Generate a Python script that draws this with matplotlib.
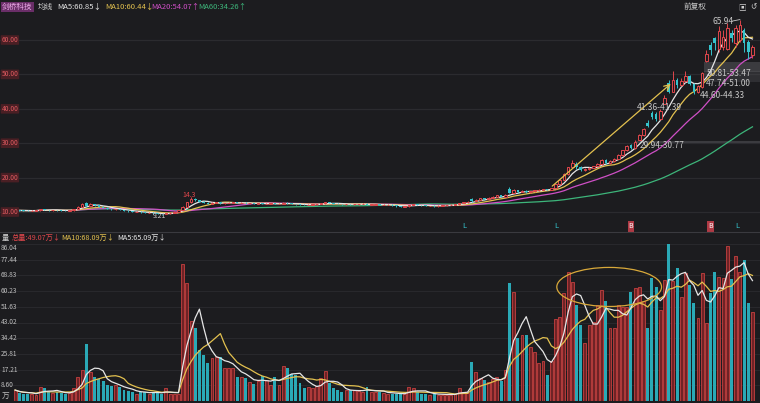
import numpy as np
import pandas as pd
import matplotlib
matplotlib.use("Agg")
from matplotlib import pyplot as plt
from matplotlib import transforms
from matplotlib.patches import Ellipse, Rectangle

plt.rcParams["font.family"] = ["Noto Sans CJK SC", "DejaVu Sans"]

opens = [
    10.3, 10.5, 10.5, 10.4, 10.3, 10.4, 10.5, 10.8, 10.6, 10.5, 10.6, 10.5, 10.4, 10.3, 10.5, 10.9, 11.6, 12.5, 11.8, 12.2,
    11.9, 11.6, 11.3, 11.0, 10.8, 10.9, 10.6, 10.4, 10.2, 10.0, 10.1, 9.9, 9.7, 9.8, 9.6, 9.4, 9.3, 9.6, 9.8, 10.1,
    10.6, 11.6, 12.8, 13.9, 13.4, 13.0, 12.7, 12.4, 12.6, 12.8, 12.5, 12.6, 12.7, 12.8, 12.6, 12.7, 12.5, 12.6, 12.4,
    12.5, 12.3, 12.4, 12.5, 12.3, 12.4, 12.7, 12.5, 12.3, 12.2, 12.1, 12.0, 12.1, 12.2, 12.3, 12.5, 12.8, 12.6, 12.4, 12.3,
    12.2, 12.3, 12.2, 12.2, 12.3, 12.4, 12.1, 12.1, 12.2, 12.0, 12.0, 12.1, 11.9, 11.7, 11.6, 11.7, 12.0, 12.2, 12.0, 11.9,
    11.75, 11.8, 11.7, 11.8, 11.9, 12.0, 12.1, 12.2, 12.6, 12.8, 13.8, 13.2, 13.6, 14.0, 13.7, 14.1, 14.5, 14.8, 14.5, 16.8, 15.6,
    16.3, 15.8, 16.2, 15.7, 16.0, 16.3, 16.5, 16.7, 16.5, 16.9, 18.0, 19.4, 21.0, 23.0, 24.0, 23.0, 22.2, 22.5, 22.9, 23.3,
    24.0, 25.0, 24.3, 24.8, 25.5, 26.6, 27.9, 29.6, 28.6, 30.8, 32.3, 36.0, 38.8, 38.5, 37.0, 41.4, 47.5, 45.0, 48.5, 46.8,
    48.0, 49.5, 47.3, 45.0, 46.2, 54.0, 58.5, 60.5, 57.5, 58.0, 57.5, 62.0, 59.0, 60.0, 63.0, 59.5, 55.5,
]
closes = [
    10.5, 10.4, 10.4, 10.3, 10.4, 10.5, 10.8, 10.6, 10.5, 10.6, 10.5, 10.4, 10.3, 10.5, 10.9, 11.6, 12.4, 11.8, 12.3, 11.9,
    11.6, 11.3, 11.0, 10.8, 10.9, 10.6, 10.4, 10.2, 10.0, 10.1, 9.9, 9.7, 9.8, 9.6, 9.4, 9.3, 9.6, 9.8, 10.1, 10.6,
    11.6, 12.8, 13.9, 13.4, 13.0, 12.7, 12.4, 12.6, 12.8, 12.5, 12.6, 12.7, 12.8, 12.6, 12.7, 12.5, 12.6, 12.4, 12.5,
    12.3, 12.4, 12.5, 12.3, 12.4, 12.7, 12.5, 12.3, 12.2, 12.1, 12.0, 12.1, 12.2, 12.3, 12.5, 12.8, 12.6, 12.4, 12.3, 12.2,
    12.3, 12.2, 12.3, 12.3, 12.4, 12.1, 12.2, 12.2, 12.0, 12.1, 12.1, 11.9, 11.7, 11.6, 11.7, 12.0, 12.2, 12.0, 11.9, 11.8,
    11.8, 11.7, 11.8, 11.9, 12.0, 12.1, 12.2, 12.6, 12.8, 13.0, 13.2, 13.6, 14.0, 13.7, 14.1, 14.5, 14.8, 14.5, 15.0, 15.6, 16.3,
    15.8, 16.2, 15.7, 16.0, 16.3, 16.5, 16.7, 16.5, 16.9, 18.0, 19.4, 21.0, 23.0, 24.2, 23.0, 22.2, 22.5, 22.9, 23.3, 24.0,
    25.0, 24.3, 24.8, 25.5, 26.6, 27.9, 29.3, 28.6, 30.4, 32.3, 34.0, 35.0, 37.5, 37.0, 39.5, 43.0, 45.0, 48.5, 46.8, 48.2,
    49.5, 47.3, 45.0, 46.5, 50.5, 56.0, 57.0, 59.0, 62.5, 61.0, 63.5, 60.5, 63.5, 64.5, 59.0, 56.5, 58.0,
]
highs = [
    10.6, 10.6, 10.5, 10.5, 10.5, 10.6, 10.9, 10.9, 10.7, 10.7, 10.7, 10.6, 10.5, 10.6, 11.0, 11.8, 12.7, 12.9, 12.6, 12.3,
    12.0, 11.7, 11.4, 11.1, 11.0, 10.9, 10.7, 10.5, 10.3, 10.2, 10.2, 10.0, 9.9, 9.9, 9.7, 9.5, 9.7, 9.9, 10.2, 10.7,
    11.7, 12.8, 14.3, 14.1, 13.6, 13.1, 12.8, 12.8, 12.9, 12.9, 12.7, 12.8, 12.9, 12.9, 12.8, 12.8, 12.7, 12.7, 12.6,
    12.6, 12.5, 12.6, 12.6, 12.5, 12.9, 12.8, 12.6, 12.4, 12.3, 12.2, 12.2, 12.3, 12.4, 12.6, 12.9, 12.9, 12.7, 12.5, 12.4,
    12.4, 12.4, 12.4, 12.4, 12.5, 12.5, 12.3, 12.3, 12.3, 12.2, 12.2, 12.2, 12.0, 11.8, 11.8, 12.1, 12.3, 12.3, 12.1, 12.0,
    11.85, 11.9, 11.9, 12.0, 12.1, 12.2, 12.3, 12.7, 12.9, 13.1, 14.0, 13.8, 14.2, 14.1, 14.3, 14.6, 15.0, 14.9, 15.2, 17.3, 16.6,
    16.4, 16.4, 16.3, 16.2, 16.4, 16.6, 16.8, 16.8, 17.0, 18.2, 19.6, 21.3, 23.1, 25.0, 24.5, 23.3, 22.8, 23.1, 23.5, 24.2,
    25.3, 25.3, 25.0, 25.7, 26.8, 28.1, 29.6, 29.9, 30.8, 32.6, 34.3, 36.8, 39.5, 39.0, 40.0, 44.0, 48.5, 51.0, 49.0, 49.0,
    51.0, 49.8, 47.5, 47.0, 50.8, 57.0, 59.5, 61.0, 64.0, 63.0, 65.0, 63.0, 64.5, 65.94, 63.5, 60.0, 58.5,
]
lows = [
    10.2, 10.3, 10.3, 10.2, 10.2, 10.3, 10.4, 10.5, 10.4, 10.4, 10.4, 10.3, 10.2, 10.2, 10.4, 10.8, 11.5, 11.6, 11.6, 11.7,
    11.5, 11.2, 10.9, 10.7, 10.7, 10.5, 10.3, 10.1, 9.9, 9.9, 9.8, 9.6, 9.6, 9.5, 9.3, 9.21, 9.3, 9.5, 9.7, 10.0,
    10.5, 11.5, 12.6, 13.2, 12.9, 12.5, 12.2, 12.3, 12.5, 12.4, 12.4, 12.5, 12.6, 12.5, 12.5, 12.4, 12.4, 12.3, 12.3,
    12.2, 12.2, 12.3, 12.2, 12.2, 12.3, 12.4, 12.2, 12.1, 12.0, 11.9, 11.9, 12.0, 12.1, 12.2, 12.4, 12.5, 12.3, 12.2, 12.1,
    12.1, 12.1, 12.1, 12.1, 12.2, 12.0, 12.0, 12.0, 11.9, 11.9, 11.9, 11.8, 11.6, 11.5, 11.5, 11.6, 11.9, 11.9, 11.8, 11.7,
    11.7, 11.6, 11.6, 11.7, 11.8, 11.9, 12.0, 12.1, 12.5, 12.7, 13.0, 13.1, 13.5, 13.5, 13.6, 14.0, 14.4, 14.3, 14.4, 15.4, 15.4,
    15.6, 15.7, 15.5, 15.6, 15.9, 16.2, 16.4, 16.4, 16.4, 16.8, 17.9, 19.2, 20.8, 22.8, 22.6, 21.9, 22.0, 22.3, 22.7, 23.1,
    23.8, 24.0, 24.1, 24.6, 25.3, 26.4, 27.7, 28.2, 28.4, 30.8, 32.0, 34.6, 37.0, 36.5, 36.8, 41.4, 44.5, 44.8, 46.0, 46.5,
    47.8, 47.0, 44.33, 44.6, 46.0, 53.47, 55.5, 57.0, 56.5, 57.0, 57.0, 59.5, 58.0, 59.5, 56.5, 54.5, 54.8,
]
# daily volume (万手)
volumes = [
    6, 4.5, 4, 4, 4, 3.5, 7.5, 7, 5, 4.5, 5, 4.5, 4, 4.5, 7, 13, 17, 31, 16, 13,
    12, 11, 9, 8, 8.5, 7.5, 6, 5.5, 5, 4, 5, 5, 4, 5, 4.5, 4, 7, 4, 4, 4,
    75, 64.7, 44, 40, 28, 25, 21, 23.5, 24, 24, 18, 18, 18, 13, 13, 12.6, 10.4, 9.3, 11,
    13.7, 11.5, 9, 13, 9, 19, 18, 15, 14, 10, 7, 7.7, 7, 8, 12.6, 16.4, 10, 7, 6, 5,
    6, 6, 6, 5.5, 5, 7.7, 5, 5, 5, 4.5, 4, 4, 4, 4, 4, 7.7, 7, 5, 4, 4,
    3.5, 4, 3.5, 3.5, 3.5, 3.5, 4, 7, 5, 4.5, 21.4, 16, 12.6, 11.5, 10.4, 12, 13, 11, 17, 64.6, 60,
    34.5, 36, 36, 29.6, 27, 21, 22, 14, 22, 45, 46, 59, 70.7, 65, 52.6, 41.6, 31.8, 41.6, 43.3, 52.6,
    60.8, 55, 40, 40, 52.6, 51.5, 51.5, 60, 62, 62.5, 55, 40, 67.4, 62.5, 49.9, 66.3, 86.6, 66, 73, 57,
    70, 63.5, 53.7, 45.5, 70, 43, 59, 70.7, 68, 67.4, 85, 67, 79.5, 70.7, 77, 53.7, 49,
]

price_ticks = [10, 20, 30, 40, 50, 60]
vol_ticks = [8.60, 17.21, 25.81, 34.42, 43.02, 51.63, 60.23, 68.83, 77.44, 86.04]

BG = "#1c1c1f"
RED = "#e0474c"
CYAN = "#35c3cc"
GRID = "#2b2b2f"
C_MA5, C_MA10, C_MA20, C_MA60 = "#e6e6e6", "#e3c14f", "#cf4fc6", "#3db57a"

df = pd.DataFrame({"open": opens, "close": closes, "high": highs, "low": lows, "vol": volumes})
x = np.arange(len(df))
up = df["close"] >= df["open"]
for n in (5, 10, 20, 60):
    df[f"ma{n}"] = df["close"].rolling(n, min_periods=1).mean()
df["vma5"] = df["vol"].rolling(5, min_periods=1).mean()
df["vma10"] = df["vol"].rolling(10, min_periods=1).mean()

fig = plt.figure(figsize=(7.6, 4.03), dpi=100)
fig.patch.set_facecolor(BG)
H = 403.0
ax = fig.add_axes([0, 1 - 231 / H, 1, 217 / H])
axv = fig.add_axes([0, 2 / H, 1, 157 / H])
for a in (ax, axv):
    a.set_facecolor(BG)
    a.set_xlim(-3.6, 177.8)
    for s in a.spines.values():
        s.set_visible(False)
    a.set_xticks([])
    a.set_yticks([])
ax.set_ylim(4.48, 67.56)
axv.set_ylim(0, 86.04)

# grid + small axis labels hugging the left edge
tp = transforms.blended_transform_factory(fig.transFigure, ax.transData)
for t in price_ticks:
    ax.axhline(t, color=GRID, lw=0.9, zorder=0)
    ax.text(1.5 / 760, t, f"{t:.2f}", transform=tp, ha="left", va="center", fontsize=4.8, color="#e05a60",
            bbox=dict(boxstyle="round,pad=0.12", fc="#4a1f24", ec="none"), zorder=5)
tv = transforms.blended_transform_factory(fig.transFigure, axv.transData)
for t in vol_ticks:
    axv.axhline(t, color=GRID, lw=0.6, zorder=0)
    axv.text(1 / 760, t - (2.0 if t > 80 else 0), f"{t:.2f}", transform=tv, ha="left", va="center",
             fontsize=4.8, color="#bdbdbd", zorder=5)
axv.text(2 / 760, 2.5, "万", transform=tv, ha="left", va="center", fontsize=5.5, color="#bdbdbd")

# candles
w = 0.62
ax.vlines(x[up], df["low"][up], df["high"][up], color=RED, lw=0.7, zorder=3)
ax.vlines(x[~up], df["low"][~up], df["high"][~up], color=CYAN, lw=0.7, zorder=3)
body_lo = np.minimum(df["open"], df["close"])
body_h = np.maximum((df["close"] - df["open"]).abs(), 0.08)
ax.bar(x[up], body_h[up], bottom=body_lo[up], width=w, facecolor=BG, edgecolor=RED, lw=0.7, zorder=4)
ax.bar(x[~up], body_h[~up], bottom=body_lo[~up], width=w, color=CYAN, lw=0, zorder=4)

ax.plot(x, df["ma60"], color=C_MA60, lw=0.9, zorder=2)
ax.plot(x, df["ma20"], color=C_MA20, lw=0.9, zorder=2)
ax.plot(x, df["ma10"], color=C_MA10, lw=0.9, zorder=2)
ax.plot(x, df["ma5"], color=C_MA5, lw=0.9, zorder=2)

# drawn trend arrow
ax.annotate("", xy=(157, 47.8), xytext=(127.7, 17.0),
            arrowprops=dict(arrowstyle="->", color="#e3c14f", lw=0.9), zorder=5)

# gap bands
ax.add_patch(Rectangle((148, 29.94), 29.8, 0.83, color="#55555a", alpha=0.55, lw=0, zorder=1))
ax.add_patch(Rectangle((164.5, 50.81), 13.3, 2.66, color="#55555a", alpha=0.55, lw=0, zorder=1))
ax.add_patch(Rectangle((164.5, 47.74), 13.3, 3.26, color="#55555a", alpha=0.35, lw=0, zorder=1))
gap_labels = [("29.94-30.77", 149, 29.3), ("41.36-41.39", 148.5, 40.5), ("44.60-44.33", 163.5, 43.9),
              ("47.74-51.00", 164.8, 47.3), ("50.81-53.47", 165.0, 50.2)]
for lab, gx, gy in gap_labels:
    ax.text(gx, gy, lab, fontsize=6, color="#c8c8c8", ha="left", va="center", zorder=6)
ax.text(166.5, 65.5, "65.94", fontsize=6, color="#c8c8c8", ha="left", va="center", zorder=6)
ax.plot([171.2, 173], [65.5, 65.94], color="#c8c8c8", lw=0.6, zorder=6)
ax.text(34.5, 8.9, "9.21", fontsize=5, color="#c8c8c8", ha="center", va="center", zorder=6)
ax.text(41.5, 14.8, "14.3", fontsize=5, color=RED, ha="center", va="center", zorder=6)

# signal markers along bottom
for mx in (107.3, 129.3, 172.5):
    ax.text(mx, 5.8, "L", fontsize=5.5, color=CYAN, ha="center", va="center")
for mx in (147, 166):
    ax.text(mx, 5.8, "B", fontsize=5, color="white", ha="center", va="center",
            bbox=dict(boxstyle="square,pad=0.15", fc="#b03a45", ec="none"))

# volume bars
axv.bar(x[up], df["vol"][up], width=0.7, facecolor="#6e2326", edgecolor="#c4403f", lw=0.6, zorder=2)
axv.bar(x[~up], df["vol"][~up], width=0.7, color="#2aa9b6", lw=0, zorder=2)
axv.plot(x, df["vma10"], color=C_MA10, lw=0.9, zorder=3)
axv.plot(x, df["vma5"], color=C_MA5, lw=0.9, zorder=3)
axv.add_patch(Ellipse((141.8, 62.5), 25, 21.4, fill=False, edgecolor="#d9a93a", lw=0.9, zorder=4))

# panel separator
fig.add_artist(plt.Line2D([0, 1], [1 - 232 / H, 1 - 232 / H], color="#3a3a3f", lw=0.8))

# header rows
def header(items, y, size=5.5):
    for px, txt, col, bg in items:
        kw = {}
        if bg:
            kw["bbox"] = dict(boxstyle="square,pad=0.15", fc=bg, ec="none")
        fig.text(px / 760, 1 - y / H, txt, fontsize=size, color=col, ha="left", va="center", **kw)

header([(2, "剑桥科技", "#e9a9e4", "#6a2e68"), (38, "均线", "#cfcfcf", None),
        (57, "MA5:60.85↓", C_MA5, None), (105, "MA10:60.44↓", C_MA10, None),
        (151, "MA20:54.07↑", C_MA20, None), (198, "MA60:34.26↑", C_MA60, None),
        (684, "前复权", "#cfcfcf", None), (738, "▣", "#cfcfcf", None), (750, "↺", "#cfcfcf", None)], 7)
header([(2, "量", "#cfcfcf", None), (12, "总量:49.07万↓", "#e0474c", None),
        (61, "MA10:68.09万↓", C_MA10, None), (117, "MA5:65.09万↓", C_MA5, None)], 238, size=5.2)

fig.savefig("out.png", dpi=100, facecolor=BG)
